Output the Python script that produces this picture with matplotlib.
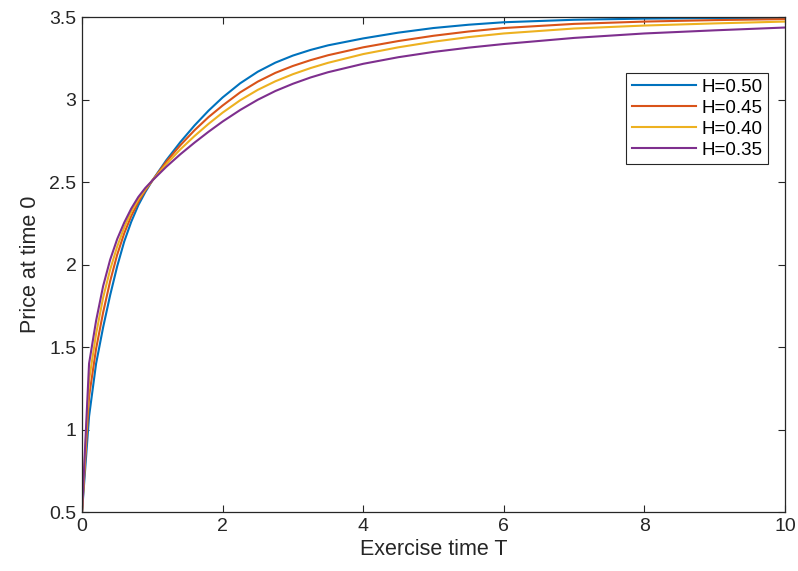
import matplotlib
matplotlib.use("Agg")
import matplotlib.pyplot as plt

plt.rcParams["font.family"] = ["Liberation Sans", "DejaVu Sans"]

# exercise times
exercise_t = [0, 0.1, 0.2, 0.3, 0.4, 0.5, 0.6, 0.7, 0.8, 0.9, 1.0,
              1.2, 1.4, 1.6, 1.8, 2.0,
              2.25, 2.5, 2.75, 3.0, 3.25, 3.5,
              4.0, 4.5, 5.0, 5.5, 6.0,
              7.0, 8.0, 9.0, 10.0]

price_h050 = [0.5, 1.08, 1.40, 1.62, 1.815, 1.99, 2.14, 2.26, 2.36, 2.44, 2.51,
              2.634, 2.744, 2.844, 2.934, 3.014,
              3.10, 3.17, 3.225, 3.268, 3.302, 3.33,
              3.372, 3.407, 3.435, 3.455, 3.47,
              3.485, 3.492, 3.495, 3.497]
price_h045 = [0.5, 1.20, 1.49, 1.71, 1.90, 2.06, 2.19, 2.295, 2.38, 2.45, 2.51,
              2.625, 2.725, 2.815, 2.895, 2.965,
              3.045, 3.11, 3.163, 3.205, 3.24, 3.27,
              3.318, 3.356, 3.388, 3.414, 3.435,
              3.46, 3.474, 3.483, 3.489]
price_h040 = [0.5, 1.30, 1.58, 1.80, 1.97, 2.11, 2.225, 2.32, 2.395, 2.457, 2.51,
              2.61, 2.70, 2.78, 2.854, 2.922,
              2.997, 3.06, 3.112, 3.155, 3.192, 3.224,
              3.277, 3.318, 3.352, 3.38, 3.402,
              3.432, 3.45, 3.463, 3.474]
price_h035 = [0.5, 1.40, 1.66, 1.87, 2.03, 2.155, 2.255, 2.34, 2.41, 2.465, 2.51,
              2.594, 2.67, 2.74, 2.806, 2.868,
              2.938, 3.0, 3.053, 3.097, 3.135, 3.167,
              3.218, 3.258, 3.29, 3.316, 3.338,
              3.375, 3.402, 3.421, 3.438]

series_labels = ["H=0.50", "H=0.45", "H=0.40", "H=0.35"]
series_colors = ["#0072BD", "#D95319", "#EDB120", "#7E2F8E"]

fig = plt.figure(figsize=(7.98, 5.71), dpi=100)
ax = fig.add_axes([0.1028, 0.1033, 0.8809, 0.8664])

for values, label, color in zip([price_h050, price_h045, price_h040, price_h035],
                                series_labels, series_colors):
    ax.plot(exercise_t, values, color=color, linewidth=1.5, label=label)

ax.set_xlim(0, 10)
ax.set_ylim(0.5, 3.5)
ax.set_xticks([0, 2, 4, 6, 8, 10])
ax.set_yticks([0.5, 1, 1.5, 2, 2.5, 3, 3.5])
ax.set_yticklabels(["0.5", "1", "1.5", "2", "2.5", "3", "3.5"])
ax.tick_params(direction="in", top=True, right=True, length=5, width=0.8,
               color="#262626", labelcolor="#262626", labelsize=14, pad=4)
for spine in ax.spines.values():
    spine.set_color("#262626")
    spine.set_linewidth(0.9)

ax.set_xlabel("Exercise time T", fontsize=15.5, color="#262626", labelpad=3)
ax.set_ylabel("Price at time 0", fontsize=15.5, color="#262626", labelpad=6)

leg = ax.legend(loc="upper right", bbox_to_anchor=(0.9758, 0.887), fontsize=13.5,
                frameon=True, fancybox=False, edgecolor="#262626", framealpha=1,
                handlelength=3.4, handletextpad=0.3, labelspacing=0.2,
                borderpad=0.3, borderaxespad=0)
leg.get_frame().set_linewidth(0.8)

fig.savefig("out.png", dpi=100)
